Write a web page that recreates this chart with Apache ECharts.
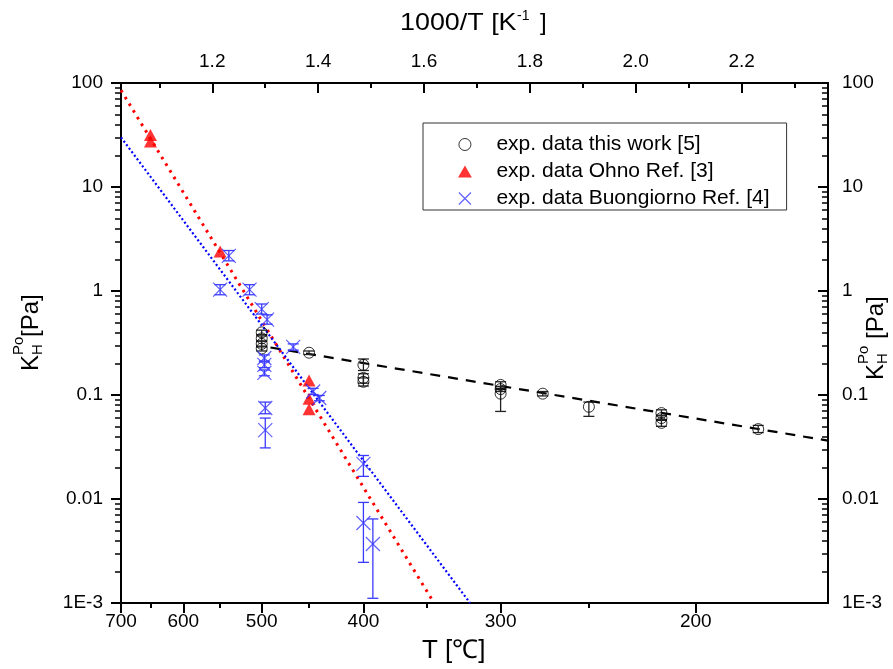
<!DOCTYPE html>
<html><head><meta charset="utf-8">
<script src="https://cdn.jsdelivr.net/npm/echarts@6/dist/echarts.min.js"></script>
<style>html,body{margin:0;padding:0;background:#fff}#c{width:893px;height:669px}</style>
</head><body><div id="c"></div>
<script>
const FONT = '"Liberation Sans", Arial, Helvetica, sans-serif';

// ---- axis ticks ----
const tempTicks = [700, 600, 500, 400, 300, 200];          // bottom axis, °C
const tempMinorTicks = [650, 550, 450, 350, 250];
const tempRange = [700, 150];                                // left / right edge, °C
const invTicks = [1.2, 1.4, 1.6, 1.8, 2.0, 2.2];            // top axis, 1000/T [1/K]
const invMinorTicks = [1.1, 1.3, 1.5, 1.7, 1.9, 2.1, 2.3];
const yRange = [0.001, 100];

// ---- exp. data this work [5] : T (°C), K (Pa), error low, error high ----
const workT  = [500, 500, 500, 500, 450, 400, 400, 400, 300, 300, 300, 275, 250, 215, 215, 215, 175];
const workK  = [0.40, 0.35, 0.31, 0.28, 0.255, 0.195, 0.146, 0.134, 0.125, 0.114, 0.103, 0.103, 0.077, 0.067, 0.060, 0.054, 0.047];
const workLo = [0.38, 0.33, 0.29, 0.265, 0.245, 0.172, 0.130, 0.122, 0.116, 0.108, 0.0695, 0.098, 0.0623, 0.063, 0.057, 0.050, 0.0435];
const workHi = [0.42, 0.37, 0.33, 0.295, 0.265, 0.222, 0.160, 0.146, 0.134, 0.121, 0.113, 0.108, 0.0855, 0.072, 0.064, 0.058, 0.051];

// ---- exp. data Ohno Ref. [3] ----
const ohnoT = [650, 650, 550, 450, 450, 450];
const ohnoK = [31.6, 27.4, 2.40, 0.138, 0.092, 0.073];

// ---- exp. data Buongiorno Ref. [4] ----
const buonT  = [539, 550, 514, 500, 494, 466, 497, 497, 497, 496, 496, 446, 440, 400, 400, 392];
const buonK  = [2.18, 1.03, 1.03, 0.67, 0.53, 0.29, 0.227, 0.195, 0.163, 0.075, 0.046, 0.108, 0.0935, 0.0218, 0.00588, 0.00369];
const buonLo = [1.95, 0.92, 0.92, 0.60, 0.48, 0.27, 0.212, 0.183, 0.153, 0.066, 0.031, 0.101, 0.088, 0.0165, 0.00246, 0.00111];
const buonHi = [2.45, 1.15, 1.15, 0.75, 0.59, 0.31, 0.243, 0.208, 0.174, 0.0855, 0.060, 0.116, 0.099, 0.0262, 0.00927, 0.00643];

// ---- fitted lines (end points): 1000/T, K ----
const fitWork = [[1.31, 0.286], [2.3632, 0.0364]];
const fitOhno = [[1.0276, 85], [1.619, 0.001]];
const fitBuon = [[1.0276, 30], [1.687, 0.001]];

const inv = t => 1000 / (t + 273.15);
const xMin = inv(tempRange[0]), xMax = inv(tempRange[1]);

const workPts = workT.map((t, i) => [inv(t), workK[i]]);
const workErr = workT.map((t, i) => [inv(t), workLo[i], workHi[i]]);
const ohnoPts = ohnoT.map((t, i) => [inv(t), ohnoK[i]]);
const buonPts = buonT.map((t, i) => [inv(t), buonK[i]]);
const buonErr = buonT.map((t, i) => [inv(t), buonLo[i], buonHi[i]]);

const BLUE = '#3a3aff';
const XPATH = 'path://M0,0L10,10M10,0L0,10';
const TRIPATH = 'path://M6,0L12,10.4L0,10.4Z';

function errRender(color) {
  return function (params, api) {
    const x = api.value(0);
    const lo = api.coord([x, api.value(1)]);
    const hi = api.coord([x, api.value(2)]);
    const w = 5.5;
    const st = { stroke: color, lineWidth: 1.3, fill: null };
    return { type: 'group', children: [
      { type: 'line', shape: { x1: lo[0], y1: lo[1], x2: hi[0], y2: hi[1] }, style: st },
      { type: 'line', shape: { x1: lo[0] - w, y1: lo[1], x2: lo[0] + w, y2: lo[1] }, style: st },
      { type: 'line', shape: { x1: hi[0] - w, y1: hi[1], x2: hi[0] + w, y2: hi[1] }, style: st }
    ]};
  };
}

const axisLineStyle = { color: '#000', width: 2 };
const tickStyle = { color: '#000', width: 2 };
const minorStyle = { color: '#000', width: 1.5 };
const labelBase = { color: '#000', fontSize: 19, fontFamily: FONT };

const chart = echarts.init(document.getElementById('c'), null, { renderer: 'canvas' });

const yFmt = v => (v < 0.005 ? '1E-3' : String(+Number(v).toPrecision(3)));

chart.setOption({
  backgroundColor: '#fff',
  animation: false,
  grid: { left: 121, right: 65, top: 83, bottom: 66, containLabel: false },
  xAxis: [
    { type: 'value', position: 'bottom', min: xMin, max: xMax,
      axisLine: { show: true, onZero: false, lineStyle: axisLineStyle },
      axisTick: { show: true, inside: false, length: 10, lineStyle: tickStyle, customValues: tempTicks.map(inv) },
      axisLabel: { ...labelBase, margin: 9, customValues: tempTicks.map(inv), formatter: v => String(Math.round(1000 / v - 273.15)) },
      splitLine: { show: false } },
    { type: 'value', position: 'bottom', min: xMin, max: xMax,
      axisLine: { show: false, onZero: false },
      axisTick: { show: true, inside: false, length: 5, lineStyle: tickStyle, customValues: tempMinorTicks.map(inv) },
      axisLabel: { show: false }, splitLine: { show: false } },
    { type: 'value', position: 'top', min: xMin, max: xMax,
      axisLine: { show: true, onZero: false, lineStyle: axisLineStyle },
      axisTick: { show: true, inside: true, length: 10, lineStyle: tickStyle, customValues: invTicks },
      axisLabel: { ...labelBase, margin: 12, customValues: invTicks, formatter: v => v.toFixed(1) },
      splitLine: { show: false } },
    { type: 'value', position: 'top', min: xMin, max: xMax,
      axisLine: { show: false, onZero: false },
      axisTick: { show: true, inside: true, length: 5, lineStyle: tickStyle, customValues: invMinorTicks },
      axisLabel: { show: false }, splitLine: { show: false } }
  ],
  yAxis: [
    { type: 'log', logBase: 10, position: 'left', min: yRange[0], max: yRange[1],
      axisLine: { show: true, onZero: false, lineStyle: axisLineStyle },
      axisTick: { show: true, inside: false, length: 10, lineStyle: tickStyle },
      minorTick: { show: true, splitNumber: 9, length: 6, lineStyle: minorStyle },
      axisLabel: { ...labelBase, margin: 18, formatter: yFmt },
      splitLine: { show: false }, minorSplitLine: { show: false } },
    { type: 'log', logBase: 10, position: 'right', min: yRange[0], max: yRange[1],
      axisLine: { show: true, onZero: false, lineStyle: axisLineStyle },
      axisTick: { show: true, inside: true, length: 10, lineStyle: tickStyle },
      minorTick: { show: true, splitNumber: 9, length: 6, lineStyle: minorStyle },
      axisLabel: { ...labelBase, margin: 14, formatter: yFmt },
      splitLine: { show: false }, minorSplitLine: { show: false } }
  ],
  legend: {
    left: 423, top: 123, orient: 'vertical',
    itemWidth: 53, itemHeight: 12, itemGap: 6,
    padding: [11, 17, 1, 35],
    borderColor: '#333', borderWidth: 1,
    textStyle: { fontSize: 21, lineHeight: 21, fontFamily: FONT, color: '#000' },
    selectedMode: false,
    data: [
      { name: 'exp. data this work [5]', icon: 'circle', itemStyle: { color: 'rgba(0,0,0,0)', borderColor: '#000', borderWidth: 1 } },
      { name: 'exp. data Ohno Ref. [3]', icon: TRIPATH, itemStyle: { color: '#ff0000', borderWidth: 0 } },
      { name: 'exp. data Buongiorno Ref. [4]', icon: XPATH, itemStyle: { color: 'rgba(0,0,0,0)', borderColor: BLUE, borderWidth: 1.2 } }
    ]
  },
  series: [
    { name: 'fit work', type: 'line', data: fitWork, showSymbol: false, silent: true, z: 1,
      lineStyle: { color: '#000', width: 2.2, type: [10, 8] } },
    { name: 'fit Ohno', type: 'line', data: fitOhno, showSymbol: false, silent: true, z: 1,
      lineStyle: { color: '#ff0000', width: 3, type: [2.6, 5.2], cap: 'butt' } },
    { name: 'fit Buongiorno', type: 'line', data: fitBuon, showSymbol: false, silent: true, z: 1,
      lineStyle: { color: '#0000ff', width: 2.2, type: [2, 2.4], cap: 'butt' } },
    { name: 'err work', type: 'custom', data: workErr, renderItem: errRender('#222'), z: 2, silent: true },
    { name: 'err buon', type: 'custom', data: buonErr, renderItem: errRender(BLUE), z: 2, silent: true },
    { name: 'exp. data this work [5]', type: 'scatter', data: workPts, symbol: 'circle', symbolSize: 11, z: 3,
      itemStyle: { color: 'rgba(0,0,0,0)', borderColor: '#000', borderWidth: 1 } },
    { name: 'exp. data Ohno Ref. [3]', type: 'scatter', data: ohnoPts, symbol: 'triangle', symbolSize: [13, 12], z: 3,
      itemStyle: { color: '#ff0000' } },
    { name: 'exp. data Buongiorno Ref. [4]', type: 'scatter', data: buonPts, symbol: XPATH, symbolSize: 14, z: 3,
      itemStyle: { color: 'rgba(0,0,0,0)', borderColor: BLUE, borderWidth: 1.2 } }
  ],
  graphic: [
    { type: 'text', x: 400, y: 23, scaleX: 1.12, style: { text: '1000/T [K', font: '24px ' + FONT, fill: '#000', verticalAlign: 'middle' } },
    { type: 'text', x: 517, y: 16, style: { text: '-1', font: '14px ' + FONT, fill: '#000', verticalAlign: 'middle' } },
    { type: 'text', x: 540, y: 23, style: { text: ']', font: '24px ' + FONT, fill: '#000', verticalAlign: 'middle' } },
    { type: 'text', x: 422, y: 651, style: { text: 'T [℃]', font: '26px ' + FONT, fill: '#000', verticalAlign: 'middle' } },
    { type: 'group', x: 31, y: 371, rotation: Math.PI / 2, children: [
      { type: 'text', x: 0, y: 0, style: { text: 'K', font: '24px ' + FONT, fill: '#000', verticalAlign: 'middle', align: 'left' } },
      { type: 'text', x: 16, y: 7, style: { text: 'H', font: '15px ' + FONT, fill: '#000', verticalAlign: 'middle', align: 'left' } },
      { type: 'text', x: 16, y: -12, style: { text: 'Po', font: '15px ' + FONT, fill: '#000', verticalAlign: 'middle', align: 'left' } },
      { type: 'text', x: 34, y: 0, style: { text: '[Pa]', font: '24px ' + FONT, fill: '#000', verticalAlign: 'middle', align: 'left' } }
    ]},
    { type: 'group', x: 876, y: 380, rotation: Math.PI / 2, children: [
      { type: 'text', x: 0, y: 0, style: { text: 'K', font: '24px ' + FONT, fill: '#000', verticalAlign: 'middle', align: 'left' } },
      { type: 'text', x: 16, y: 7, style: { text: 'H', font: '15px ' + FONT, fill: '#000', verticalAlign: 'middle', align: 'left' } },
      { type: 'text', x: 16, y: -12, style: { text: 'Po', font: '15px ' + FONT, fill: '#000', verticalAlign: 'middle', align: 'left' } },
      { type: 'text', x: 41, y: 0, style: { text: '[Pa]', font: '24px ' + FONT, fill: '#000', verticalAlign: 'middle', align: 'left' } }
    ]}
  ]
});
</script>
</body></html>
